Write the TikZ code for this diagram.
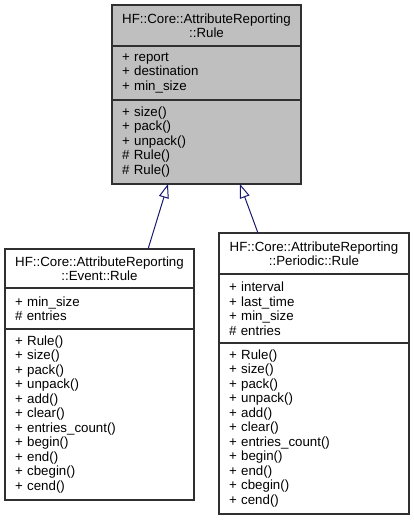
\documentclass[tikz,border=0pt]{standalone}
\usepackage{fontspec}
\setmainfont{Liberation Sans}
\usetikzlibrary{arrows.meta,calc}
\definecolor{boxborder}{HTML}{303030}
\definecolor{basefill}{HTML}{BFBFBF}
\definecolor{edgeblue}{HTML}{191970}
\begin{document}
\begin{tikzpicture}[x=1pt,y=-1pt,
  part/.style={draw=boxborder,line width=1.2pt,anchor=north west,inner xsep=10pt,inner ysep=0pt,
    font=\fontsize{13.3}{14.5}\selectfont,outer sep=0pt},
  titlepart/.style={part,align=center,inner xsep=4pt},
  listpart/.style={part,align=left},
  inherit/.style={draw=edgeblue,line width=1pt,-{Triangle[open,length=14pt,width=10pt,line width=1pt]}}]
\useasboundingbox (0,0) rectangle (413,521);
% base class
\node[titlepart,fill=basefill,minimum width=189pt,minimum height=41pt,text width=181pt] (basetitle) at (112,5)
  {HF::Core::AttributeReporting\\::Rule};
\node[listpart,fill=basefill,minimum width=189pt,minimum height=54pt,text width=169pt] (baseattr) at (112,46)
  {+ report\\+ destination\\+ min\_size};
\node[listpart,fill=basefill,minimum width=189pt,minimum height=84pt,text width=169pt] (basemeth) at (112,100)
  {+ size()\\+ pack()\\+ unpack()\\\# Rule()\\\# Rule()};
% event rule
\node[titlepart,fill=white,minimum width=189pt,minimum height=39pt,text width=181pt] (evtitle) at (5,249)
  {HF::Core::AttributeReporting\\::Event::Rule};
\node[listpart,fill=white,minimum width=189pt,minimum height=41pt,text width=169pt] (evattr) at (5,288)
  {+ min\_size\\\# entries};
\node[listpart,fill=white,minimum width=189pt,minimum height=171pt,text width=169pt] (evmeth) at (5,329)
  {+ Rule()\\+ size()\\+ pack()\\+ unpack()\\+ add()\\+ clear()\\+ entries\_count()\\+ begin()\\+ end()\\+ cbegin()\\+ cend()};
% periodic rule
\node[titlepart,fill=white,minimum width=190pt,minimum height=41pt,text width=182pt] (pertitle) at (219,233)
  {HF::Core::AttributeReporting\\::Periodic::Rule};
\node[listpart,fill=white,minimum width=190pt,minimum height=69pt,text width=170pt] (perattr) at (219,274)
  {+ interval\\+ last\_time\\+ min\_size\\\# entries};
\node[listpart,fill=white,minimum width=190pt,minimum height=171pt,text width=170pt] (permeth) at (219,343)
  {+ Rule()\\+ size()\\+ pack()\\+ unpack()\\+ add()\\+ clear()\\+ entries\_count()\\+ begin()\\+ end()\\+ cbegin()\\+ cend()};
% inheritance
\draw[inherit] ($(evtitle.north west)!0.757!(evtitle.north east)$) -- ($(basemeth.south west)!0.296!(basemeth.south east)$);
\draw[inherit] ($(pertitle.north west)!0.205!(pertitle.north east)$) -- ($(basemeth.south west)!0.677!(basemeth.south east)$);
\end{tikzpicture}
\end{document}
